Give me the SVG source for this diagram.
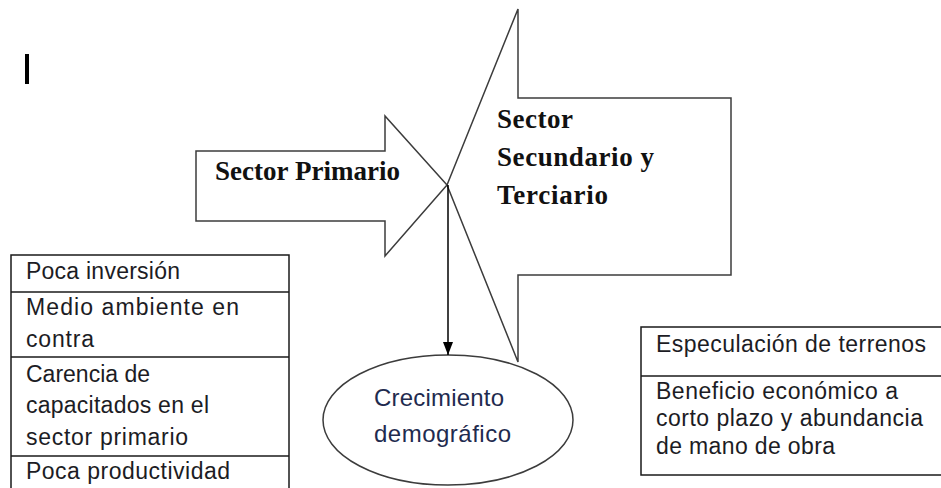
<svg xmlns="http://www.w3.org/2000/svg" width="941" height="488" viewBox="0 0 941 488">
<defs>
<style>
.shape{fill:#fff;stroke:#3c3c3c;stroke-width:1.5;stroke-linejoin:miter}
.tbl{fill:none;stroke:#1a1a1a;stroke-width:1.5}
.t{font-family:"Liberation Sans",Arial,sans-serif;font-size:23px;fill:#1c1c24}
.e{font-family:"Liberation Sans",Arial,sans-serif;font-size:24px;fill:#1f2b4f}
.b{font-family:"Liberation Serif","Times New Roman",serif;font-size:27px;font-weight:bold;fill:#111}
</style>
<marker id="ah" markerWidth="13" markerHeight="10" refX="13" refY="5" orient="auto" markerUnits="userSpaceOnUse" viewBox="0 0 13 10">
<path d="M0,0 L13,5 L0,10 Z" fill="#000"/>
</marker>
</defs>
<rect width="941" height="488" fill="#fff"/>
<rect x="25" y="54" width="4" height="30" fill="#000"/>
<g id="sector-secundario">
<polygon class="shape" points="447,185 518,9 518,98 731,98 731,275 518,275 518,362"/>
<text class="b" x="497" y="128" textLength="76">Sector</text>
<text class="b" x="497" y="166" textLength="157">Secundario y</text>
<text class="b" x="497" y="204" textLength="111">Terciario</text>
</g>
<g id="sector-primario">
<polygon class="shape" points="196,151 385,151 385,116 447,185 385,256 385,221 196,221"/>
<text class="b" x="215" y="180" textLength="185">Sector Primario</text>
</g>
<g id="crecimiento">
<ellipse cx="448" cy="420" rx="125" ry="65" fill="#fff" stroke="#3c3c3c" stroke-width="1.5"/>
<text class="e" x="374" y="406" textLength="130">Crecimiento</text>
<text class="e" x="374" y="442" textLength="137">demográfico</text>
</g>
<g id="tabla-primario">
<rect class="tbl" x="11" y="255" width="278" height="240"/>
<line class="tbl" x1="11" y1="292" x2="289" y2="292"/>
<line class="tbl" x1="11" y1="357" x2="289" y2="357"/>
<line class="tbl" x1="11" y1="456" x2="289" y2="456"/>
<text class="t" x="26" y="279" textLength="154">Poca inversión</text>
<text class="t" x="26" y="315" textLength="213">Medio ambiente en</text>
<text class="t" x="26" y="347" textLength="68">contra</text>
<text class="t" x="26" y="382" textLength="124">Carencia de</text>
<text class="t" x="26" y="413" textLength="183">capacitados en el</text>
<text class="t" x="26" y="445" textLength="162">sector primario</text>
<text class="t" x="26" y="479" textLength="204">Poca productividad</text>
</g>
<g id="tabla-secundario">
<rect class="tbl" x="641" y="327" width="305" height="148"/>
<line class="tbl" x1="641" y1="376" x2="946" y2="376"/>
<text class="t" x="656" y="352" textLength="270">Especulación de terrenos</text>
<text class="t" x="656" y="399" textLength="242">Beneficio económico a</text>
<text class="t" x="656" y="426" textLength="267">corto plazo y abundancia</text>
<text class="t" x="656" y="454" textLength="179">de mano de obra</text>
</g>
<g id="connectors">
<line x1="448" y1="185" x2="448" y2="355" stroke="#000" stroke-width="1.5" marker-end="url(#ah)"/>
</g>
</svg>
